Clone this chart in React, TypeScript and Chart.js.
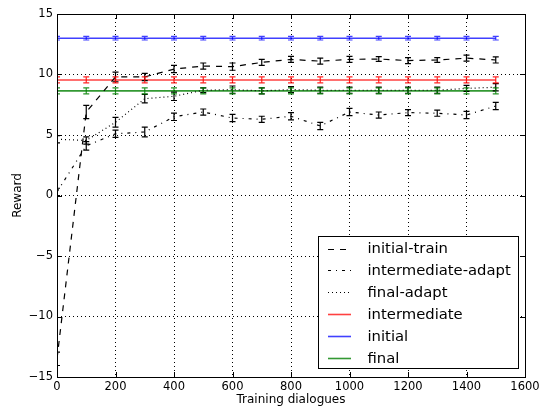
import React, { useEffect, useRef } from 'react';
import { Chart, registerables } from 'chart.js';

Chart.register(...registerables);

// ---- data ----
const xValues = [0, 100, 200, 300, 400, 500, 600, 700, 800, 900, 1000, 1100, 1200, 1300, 1400, 1500];

const initialTrain = [-13.5, 6.9, 9.8, 9.8, 10.45, 10.7, 10.65, 11.0, 11.25, 11.1, 11.25, 11.28, 11.15, 11.2, 11.35, 11.2];
const initialTrainErr = [0.55, 0.55, 0.4, 0.3, 0.3, 0.25, 0.3, 0.25, 0.25, 0.25, 0.25, 0.2, 0.25, 0.2, 0.25, 0.25];

const intermediateAdapt = [0.3, 4.1, 5.1, 5.25, 6.5, 6.9, 6.4, 6.3, 6.55, 5.75, 6.9, 6.65, 6.85, 6.8, 6.65, 7.4];
const intermediateAdaptErr = [0.3, 0.35, 0.3, 0.4, 0.3, 0.25, 0.3, 0.25, 0.3, 0.3, 0.3, 0.25, 0.25, 0.25, 0.3, 0.3];

const finalAdapt = [4.65, 4.55, 6.05, 8.0, 8.2, 8.7, 8.75, 8.65, 8.75, 8.7, 8.7, 8.7, 8.7, 8.7, 8.85, 8.95];
const finalAdaptErr = [0.3, 0.3, 0.4, 0.35, 0.35, 0.2, 0.3, 0.25, 0.25, 0.25, 0.25, 0.25, 0.25, 0.25, 0.25, 0.3];

const intermediate = [9.55, 9.55, 9.55, 9.55, 9.55, 9.55, 9.55, 9.55, 9.55, 9.55, 9.55, 9.55, 9.55, 9.55, 9.55, 9.55];
const intermediateErr = [0.25, 0.25, 0.25, 0.25, 0.25, 0.25, 0.25, 0.25, 0.25, 0.25, 0.25, 0.25, 0.25, 0.25, 0.25, 0.25];

const initial = [13.0, 13.0, 13.0, 13.0, 13.0, 13.0, 13.0, 13.0, 13.0, 13.0, 13.0, 13.0, 13.0, 13.0, 13.0, 13.0];
const initialErr = [0.15, 0.15, 0.15, 0.15, 0.15, 0.15, 0.15, 0.15, 0.15, 0.15, 0.15, 0.15, 0.15, 0.15, 0.15, 0.15];

const finalSeries = [8.65, 8.65, 8.65, 8.65, 8.65, 8.65, 8.65, 8.65, 8.65, 8.65, 8.65, 8.65, 8.65, 8.65, 8.65, 8.65];
const finalErr = [0.25, 0.25, 0.25, 0.25, 0.25, 0.25, 0.25, 0.25, 0.25, 0.25, 0.25, 0.25, 0.25, 0.25, 0.25, 0.25];

const seriesLabels = ['initial-train', 'intermediate-adapt', 'final-adapt', 'intermediate', 'initial', 'final'];
const xTitle = 'Training dialogues';
const yTitle = 'Reward';

// ---- styles ----
const FONT = 'DejaVu Sans';
const seriesStyles = [
  { color: '#000000', err: '#000000', dash: [6, 6], width: 1.2 },
  { color: '#000000', err: '#000000', dash: [3, 5, 1, 5], width: 1.2 },
  { color: '#000000', err: '#000000', dash: [1, 3], width: 1.2 },
  { color: 'rgba(255,0,0,0.75)', err: 'rgba(255,0,0,0.85)', dash: [], width: 1.6 },
  { color: 'rgba(0,0,255,0.75)', err: 'rgba(0,0,255,0.75)', dash: [], width: 1.6 },
  { color: 'rgba(0,128,0,0.8)', err: 'rgba(0,128,0,0.85)', dash: [], width: 1.6 },
];

const seriesValues = [initialTrain, intermediateAdapt, finalAdapt, intermediate, initial, finalSeries];
const seriesErrs = [initialTrainErr, intermediateAdaptErr, finalAdaptErr, intermediateErr, initialErr, finalErr];

const decorPlugin = {
  id: 'decor',
  afterDatasetsDraw(chart: any) {
    const { ctx, chartArea, scales } = chart;
    const xs = scales.x;
    const ys = scales.y;
    // error bars
    ctx.save();
    ctx.beginPath();
    ctx.rect(chartArea.left, chartArea.top, chartArea.right - chartArea.left, chartArea.bottom - chartArea.top);
    ctx.clip();
    seriesValues.forEach((vals, si) => {
      const errs = seriesErrs[si];
      ctx.strokeStyle = seriesStyles[si].err;
      ctx.lineWidth = 1.2;
      ctx.setLineDash([]);
      vals.forEach((v, i) => {
        const px = xs.getPixelForValue(xValues[i]);
        const y1 = ys.getPixelForValue(v - errs[i]);
        const y2 = ys.getPixelForValue(v + errs[i]);
        ctx.beginPath();
        ctx.moveTo(px, y1);
        ctx.lineTo(px, y2);
        ctx.moveTo(px - 3, y1);
        ctx.lineTo(px + 3, y1);
        ctx.moveTo(px - 3, y2);
        ctx.lineTo(px + 3, y2);
        ctx.stroke();
      });
    });
    ctx.restore();
  },
  afterDraw(chart: any) {
    const { ctx, chartArea, scales } = chart;
    const { left, right, top, bottom } = chartArea;
    const xs = scales.x;
    const ys = scales.y;
    ctx.save();
    // frame
    ctx.strokeStyle = '#000';
    ctx.lineWidth = 1;
    ctx.setLineDash([]);
    ctx.strokeRect(Math.round(left) + 0.5, Math.round(top) + 0.5, Math.round(right - left), Math.round(bottom - top));
    // inward ticks
    const tl = 5;
    ctx.beginPath();
    xs.ticks.forEach((t: any) => {
      const px = Math.round(xs.getPixelForValue(t.value)) + 0.5;
      ctx.moveTo(px, bottom);
      ctx.lineTo(px, bottom - tl);
      ctx.moveTo(px, top);
      ctx.lineTo(px, top + tl);
    });
    ys.ticks.forEach((t: any) => {
      const py = Math.round(ys.getPixelForValue(t.value)) + 0.5;
      ctx.moveTo(left, py);
      ctx.lineTo(left + tl, py);
      ctx.moveTo(right, py);
      ctx.lineTo(right - tl, py);
    });
    ctx.stroke();

    // axis titles
    ctx.fillStyle = '#000';
    ctx.font = `12px "${FONT}"`;
    ctx.textAlign = 'center';
    ctx.textBaseline = 'middle';
    ctx.fillText(xTitle, (left + right) / 2, 400);
    ctx.save();
    ctx.translate(18, (top + bottom) / 2);
    ctx.rotate(-Math.PI / 2);
    ctx.fillText(yTitle, 0, 0);
    ctx.restore();

    // legend
    const bx = 318.5, by = 236.5, bw = 200, bh = 132;
    ctx.fillStyle = '#fff';
    ctx.fillRect(bx, by, bw, bh);
    ctx.strokeStyle = '#000';
    ctx.lineWidth = 1;
    ctx.strokeRect(bx, by, bw, bh);
    const rowY0 = 248.5;
    const rowStep = 21.85;
    ctx.font = `14.8px "${FONT}"`;
    ctx.textAlign = 'left';
    ctx.textBaseline = 'middle';
    seriesLabels.forEach((lab, i) => {
      const y = rowY0 + i * rowStep;
      const st = seriesStyles[i];
      ctx.strokeStyle = st.color;
      ctx.lineWidth = st.width;
      ctx.setLineDash(st.dash);
      ctx.beginPath();
      ctx.moveTo(328, Math.round(y) + 0.5);
      ctx.lineTo(351, Math.round(y) + 0.5);
      ctx.stroke();
      ctx.setLineDash([]);
      ctx.fillStyle = '#000';
      ctx.fillText(lab, 367.5, y + 1);
    });
    ctx.restore();
  },
};

const fmt = (v: any) => {
  const n = Number(v);
  return n < 0 ? '\u2212' + Math.abs(n) : String(n);
};

export default function App() {
  const ref = useRef<HTMLCanvasElement | null>(null);
  useEffect(() => {
    if (!ref.current) return;
    const datasets = seriesValues.map((vals, si) => ({
      label: seriesLabels[si],
      data: vals.map((v, i) => ({ x: xValues[i], y: v })),
      borderColor: seriesStyles[si].color,
      borderWidth: seriesStyles[si].width,
      borderDash: seriesStyles[si].dash,
      pointRadius: 0,
      fill: false,
      tension: 0,
    }));
    const tickFont = { family: FONT, size: 11.5 };
    const chart = new Chart(ref.current, {
      type: 'line',
      data: { datasets },
      options: {
        responsive: false,
        maintainAspectRatio: false,
        animation: false,
        layout: { padding: { left: 0, right: 18, top: 14, bottom: 0 } },
        plugins: { legend: { display: false }, tooltip: { enabled: false } },
        scales: {
          x: {
            type: 'linear',
            min: 0,
            max: 1600,
            afterFit: (s: any) => { s.height = 30; },
            ticks: { stepSize: 200, font: tickFont, color: '#000', padding: 3, maxRotation: 0, autoSkip: false, callback: fmt },
            grid: { color: '#000', lineWidth: 1, drawTicks: false },
            border: { display: false, dash: [1, 3] },
          },
          y: {
            type: 'linear',
            min: -15,
            max: 15,
            afterFit: (s: any) => { s.width = 57; },
            ticks: { stepSize: 5, font: tickFont, color: '#000', padding: 4, autoSkip: false, callback: fmt },
            grid: { color: '#000', lineWidth: 1, drawTicks: false },
            border: { display: false, dash: [1, 3] },
          },
        },
      } as any,
      plugins: [decorPlugin],
    });
    return () => chart.destroy();
  }, []);
  return (
    <div style={{ position: 'absolute', left: 0, top: 0, width: 543, height: 407, background: '#fff' }}>
      <canvas ref={ref} width={543} height={407} style={{ width: 543, height: 407 }} />
    </div>
  );
}
